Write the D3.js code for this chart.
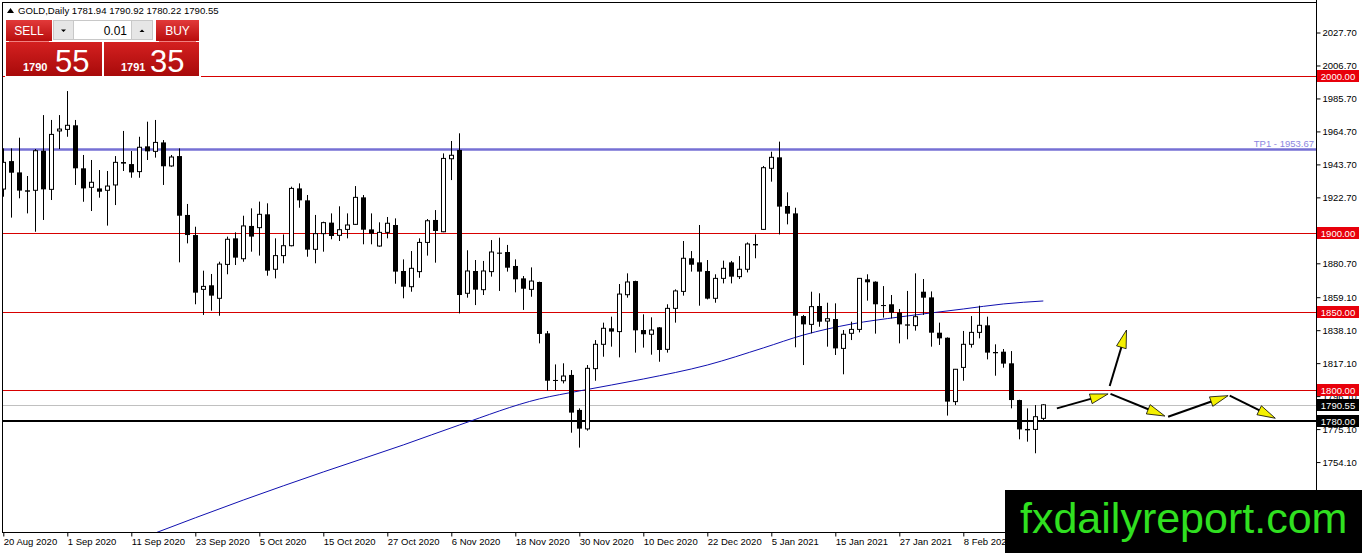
<!DOCTYPE html>
<html lang="en">
<head>
<meta charset="UTF-8">
<title>GOLD,Daily</title>
<script src="https://cdn.jsdelivr.net/npm/d3@7"></script>
<style>
    html, body { margin: 0; padding: 0; background: #fff; overflow: hidden; }
    svg { display: block; font-family: "Liberation Sans", Arial, sans-serif; }
</style>
</head>
<body>
<script>
// daily candles, oldest first (bar 0 = 20 Aug 2020)
const opens = [1928.0,1945.8,1938.6,1927.2,1927.2,1952.4,1927.8,1965.0,1966.0,1968.6,
    1941.2,1929.1,1928.4,1927.2,1930.6,1945.2,1943.9,1939.1,1955.2,1952.0,
    1957.7,1942.7,1949.0,1911.5,1898.7,1864.1,1866.7,1858.4,1880.0,1896.6,
    1883.6,1904.5,1903.4,1911.9,1876.9,1885.6,1891.9,1928.4,1920.8,1889.6,
    1899.6,1906.6,1898.5,1902.3,1905.5,1922.7,1902.3,1891.7,1900.4,1905.1,
    1875.8,1865.8,1875.4,1894.0,1908.3,1900.8,1947.3,1952.9,1861.6,1875.8,
    1863.9,1875.4,1887.5,1887.9,1879.0,1871.1,1864.1,1868.8,1836.1,1806.4,
    1805.9,1809.6,1787.3,1775.2,1813.6,1829.1,1839.3,1837.2,1860.7,1869.4,
    1838.2,1835.5,1839.9,1825.9,1852.0,1862.8,1883.9,1881.3,1875.8,1858.4,
    1871.1,1881.3,1872.2,1876.9,1893.0,1902.3,1941.2,1948.2,1917.2,1912.5,
    1847.1,1841.8,1853.5,1843.9,1845.2,1826.5,1836.1,1838.6,1870.5,1869.0,
    1854.1,1854.6,1849.3,1841.8,1841.0,1862.6,1859.0,1836.5,1833.3,1792.6,
    1814.4,1829.1,1836.7,1841.2,1824.2,1824.4,1817.0,1793.6,1775.2,1774.9,
    1781.94];
const highs = [1953.9,1953.9,1960.7,1936.3,1953.5,1975.1,1972.0,1975.1,1990.4,1972.0,
    1949.7,1946.5,1940.1,1939.5,1949.0,1965.0,1952.2,1961.3,1970.9,1972.0,
    1959.2,1949.7,1953.9,1918.5,1904.0,1876.0,1873.9,1881.7,1897.7,1900.4,
    1911.0,1915.7,1920.0,1918.9,1896.6,1899.1,1929.5,1931.6,1924.2,1911.5,
    1907.2,1912.5,1917.0,1912.5,1929.9,1924.2,1912.5,1906.8,1910.2,1909.3,
    1883.2,1888.5,1896.6,1908.9,1914.6,1950.7,1958.6,1963.5,1889.0,1882.8,
    1882.2,1895.5,1897.0,1892.4,1883.2,1872.6,1878.1,1869.0,1837.6,1816.3,
    1817.0,1812.7,1788.3,1815.9,1831.8,1842.9,1846.7,1867.5,1874.3,1869.6,
    1848.2,1846.3,1840.1,1854.6,1864.1,1894.9,1888.5,1905.1,1882.8,1873.7,
    1882.4,1882.2,1885.3,1894.0,1899.1,1942.7,1951.8,1958.2,1925.9,1916.1,
    1847.8,1862.6,1861.6,1855.6,1855.2,1838.2,1843.5,1871.3,1873.7,1869.2,
    1866.2,1860.5,1851.6,1863.1,1874.3,1870.7,1862.8,1842.9,1833.5,1813.4,
    1837.6,1847.1,1853.7,1846.7,1829.1,1826.1,1824.8,1793.8,1788.3,1790.4,
    1790.92];
const lows = [1923.1,1909.8,1922.1,1912.5,1900.8,1908.3,1921.0,1953.5,1961.3,1930.6,
    1919.9,1914.0,1922.5,1904.7,1917.8,1939.5,1935.2,1935.2,1946.5,1948.0,
    1930.6,1942.2,1881.3,1893.4,1854.6,1847.8,1850.5,1847.3,1873.7,1879.6,
    1881.7,1888.1,1885.6,1872.8,1871.1,1880.7,1891.5,1916.1,1884.9,1880.7,
    1888.1,1896.0,1894.9,1896.6,1905.1,1892.8,1892.8,1891.3,1896.6,1867.7,
    1858.4,1862.6,1871.5,1885.6,1881.1,1900.5,1933.7,1848.8,1858.8,1854.1,
    1860.5,1872.2,1863.1,1875.4,1862.2,1851.0,1859.4,1829.7,1799.6,1800.0,
    1804.2,1772.8,1763.3,1774.1,1805.9,1821.2,1827.6,1820.8,1858.8,1823.8,
    1827.0,1822.5,1818.0,1823.8,1842.9,1860.1,1875.4,1853.7,1857.7,1855.6,
    1867.9,1867.9,1870.7,1874.9,1883.9,1901.9,1932.7,1899.1,1905.5,1827.2,
    1815.9,1836.1,1840.3,1827.6,1822.3,1810.0,1831.8,1836.7,1856.9,1835.9,
    1846.1,1845.6,1829.7,1832.3,1837.8,1847.8,1827.6,1828.7,1783.7,1790.4,
    1805.9,1827.0,1832.9,1819.5,1809.1,1814.2,1788.3,1768.6,1767.1,1759.7,
    1780.22];
const closes = [1945.0,1938.4,1927.0,1926.3,1952.4,1927.8,1962.8,1966.2,1968.6,1941.2,
    1928.4,1932.3,1926.3,1929.9,1945.0,1944.2,1938.6,1954.6,1952.0,1957.7,
    1942.5,1948.4,1911.0,1898.7,1862.0,1866.0,1860.1,1880.2,1896.0,1884.3,
    1904.5,1897.7,1911.9,1876.0,1885.6,1891.9,1928.4,1920.8,1889.4,1899.6,
    1906.6,1898.1,1902.1,1905.1,1922.7,1902.1,1899.6,1900.4,1906.2,1875.4,
    1865.8,1877.5,1894.0,1907.8,1901.3,1947.5,1949.5,1860.5,1875.8,1863.9,
    1875.8,1887.9,1886.8,1877.9,1870.5,1864.5,1869.4,1835.7,1805.9,1805.9,
    1808.9,1785.6,1775.4,1813.8,1829.1,1839.3,1837.2,1861.1,1868.8,1838.0,
    1835.5,1838.2,1825.5,1852.0,1863.1,1883.9,1879.8,1875.4,1858.2,1871.1,
    1877.5,1872.2,1876.9,1893.0,1892.1,1941.6,1948.2,1916.8,1912.3,1847.3,
    1841.8,1853.1,1843.5,1845.4,1826.5,1835.5,1838.6,1871.1,1868.6,1854.6,
    1853.7,1849.3,1841.8,1841.0,1846.7,1858.8,1836.5,1832.9,1792.6,1813.2,
    1829.1,1836.7,1841.2,1823.8,1823.4,1816.8,1793.6,1774.9,1774.3,1783.0,
    1790.55];

// moving average (bar index, price)
const maBars   = [18, 30, 40, 50, 57, 67, 72, 80, 88, 95, 100, 106, 112, 120, 125, 130];
const maValues = [1707.0,1729.9,1747.8,1765.0,1777.7,1794.3,1799.4,1807.0,1815.9,1826.8,1835.0,1842.0,1846.5,1851.6,1854.8,1856.7];

const dateBars   = [0, 8, 16, 24, 32, 40, 48, 56, 64, 72, 80, 88, 96, 104, 112, 120];
const dateLabels = ["20 Aug 2020","1 Sep 2020","11 Sep 2020","23 Sep 2020","5 Oct 2020","15 Oct 2020",
    "27 Oct 2020","6 Nov 2020","18 Nov 2020","30 Nov 2020","10 Dec 2020","22 Dec 2020",
    "5 Jan 2021","15 Jan 2021","27 Jan 2021","8 Feb 2021"];

const priceTicks = [2027.70, 2006.70, 1985.70, 1964.70, 1943.70, 1922.70, 1880.70,
    1859.10, 1838.10, 1817.10, 1796.10, 1775.10, 1754.10];

const redLevels = [2000, 1900, 1850, 1800];
const bid = 1790.55;
const ask = 1791.35;
const blackLevel = 1780;
const tp1 = 1953.67;

// drawn arrows: [bar, price] -> [bar, price]
const arrows = [
    [[131.7, 1788.3], [138.1, 1797.5]],
    [[138.3, 1802.5], [140.4, 1838.2]],
    [[138.4, 1797.5], [145.2, 1783.4]],
    [[145.6, 1783.0], [153.1, 1796.4]],
    [[153.3, 1796.4], [159.0, 1782.0]]
];

const W = 1362, H = 553;
const plot = {left: 2, top: 2, right: 1316, bottom: 532};

const x = d3.scaleLinear().domain([0, 164]).range([3.3, 3.3 + 8 * 164]);
const y = d3.scaleLinear().domain([1800, 2000]).range([390, 76]);

const svg = d3.select("body").append("svg").attr("width", W).attr("height", H);

svg.append("defs").append("clipPath").attr("id", "plotclip")
    .append("rect")
    .attr("x", plot.left).attr("y", plot.top)
    .attr("width", plot.right - plot.left).attr("height", plot.bottom - plot.top);

const g = svg.append("g").attr("clip-path", "url(#plotclip)");

// horizontal levels
g.selectAll("line.red").data(redLevels).enter().append("line")
    .attr("x1", plot.left).attr("x2", plot.right)
    .attr("y1", d => Math.round(y(d)) + 0.5).attr("y2", d => Math.round(y(d)) + 0.5)
    .attr("stroke", "#d70000").attr("stroke-width", 1);

g.append("line")
    .attr("x1", plot.left).attr("x2", plot.right)
    .attr("y1", Math.round(y(bid)) + 0.5).attr("y2", Math.round(y(bid)) + 0.5)
    .attr("stroke", "#c0c0c0");

g.append("line")
    .attr("x1", plot.left).attr("x2", plot.right)
    .attr("y1", Math.round(y(blackLevel))).attr("y2", Math.round(y(blackLevel)))
    .attr("stroke", "#000").attr("stroke-width", 2);

g.append("line")
    .attr("x1", plot.left).attr("x2", plot.right)
    .attr("y1", Math.round(y(tp1)) + 0.5).attr("y2", Math.round(y(tp1)) + 0.5)
    .attr("stroke", "#7670d4").attr("stroke-width", 2.5);

g.append("text")
    .attr("x", plot.right - 2).attr("y", Math.round(y(tp1)) - 2)
    .attr("text-anchor", "end").attr("font-size", 9.5)
    .attr("fill", "#8c86e0")
    .text("TP1 - " + tp1.toFixed(2));

// moving average
const maData = maBars.map((b, i) => ({b: b, v: maValues[i]}));
g.append("path")
    .datum(maData)
    .attr("fill", "none")
    .attr("stroke", "#1010b0")
    .attr("stroke-width", 1)
    .attr("d", d3.line().x(d => x(d.b)).y(d => y(d.v)).curve(d3.curveMonotoneX));

// candles
const candles = opens.map((o, i) => ({i: i, o: o, h: highs[i], l: lows[i], c: closes[i]}));
const cg = g.append("g").selectAll("g").data(candles).enter().append("g");

cg.append("line")
    .attr("x1", d => Math.round(x(d.i)) + 0.5).attr("x2", d => Math.round(x(d.i)) + 0.5)
    .attr("y1", d => y(d.h)).attr("y2", d => y(d.l))
    .attr("stroke", "#000");

cg.append("rect")
    .attr("x", d => d.c >= d.o ? Math.round(x(d.i)) - 1.5 : Math.round(x(d.i)) - 2)
    .attr("width", d => d.c >= d.o ? 4 : 5)
    .attr("y", d => y(Math.max(d.o, d.c)))
    .attr("height", d => Math.max(1, y(Math.min(d.o, d.c)) - y(Math.max(d.o, d.c))))
    .attr("fill", d => d.c >= d.o ? "#fff" : "#000")
    .attr("stroke", d => d.c >= d.o ? "#000" : "none")
    .attr("stroke-width", 1);

// arrows
const ag = g.append("g");
arrows.forEach(a => {
    const x1 = x(a[0][0]), y1 = y(a[0][1]), x2 = x(a[1][0]), y2 = y(a[1][1]);
    const ang = Math.atan2(y2 - y1, x2 - x1);
    const len = 18, hw = 5;
    ag.append("line")
        .attr("x1", x1).attr("y1", y1)
        .attr("x2", x2 - Math.cos(ang) * 8).attr("y2", y2 - Math.sin(ang) * 8)
        .attr("stroke", "#000").attr("stroke-width", 2);
    const bx = x2 - Math.cos(ang) * len, by = y2 - Math.sin(ang) * len;
    const px = -Math.sin(ang) * hw, py = Math.cos(ang) * hw;
    ag.append("path")
        .attr("d", `M${x2},${y2}L${bx + px},${by + py}L${bx - px},${by - py}Z`)
        .attr("fill", "#f4f000").attr("stroke", "#000").attr("stroke-width", 0.8);
});

// frame
svg.append("line").attr("x1", plot.left + 0.5).attr("x2", plot.left + 0.5)
    .attr("y1", plot.top).attr("y2", plot.bottom).attr("stroke", "#000");
svg.append("line").attr("x1", plot.left).attr("x2", plot.right)
    .attr("y1", plot.top + 0.5).attr("y2", plot.top + 0.5).attr("stroke", "#000");

// right price axis
const yAxis = d3.axisRight(y).tickValues(priceTicks).tickSize(4).tickPadding(2)
    .tickFormat(d3.format(".2f"));
const ya = svg.append("g").attr("transform", `translate(${plot.right + 0.5},0)`).call(yAxis);
ya.select(".domain").remove();
ya.append("line").attr("x1", 0).attr("x2", 0).attr("y1", 0).attr("y2", H).attr("stroke", "#000");
ya.selectAll("text").attr("font-size", 9.5).attr("fill", "#000")
    .attr("font-family", "'Liberation Sans', Arial, sans-serif");

// bottom date axis
const xAxis = d3.axisBottom(x).tickValues(dateBars).tickSize(4).tickFormat((d, i) => dateLabels[i]);
const xa = svg.append("g").attr("transform", `translate(0,${plot.bottom + 0.5})`).call(xAxis);
xa.select(".domain").remove();
xa.append("line").attr("x1", plot.left).attr("x2", plot.right).attr("y1", 0).attr("y2", 0).attr("stroke", "#000");
xa.selectAll("text").attr("text-anchor", "start").attr("dx", 0).attr("y", 6)
    .attr("font-size", 9.5).attr("fill", "#000")
    .attr("font-family", "'Liberation Sans', Arial, sans-serif");

// price boxes on the axis
const boxes = redLevels.map(v => ({v: v, fill: "#e8000b"}))
    .concat([{v: bid, fill: "#000"}, {v: blackLevel, fill: "#000"}]);
const bxg = svg.append("g").selectAll("g").data(boxes).enter().append("g")
    .attr("transform", d => `translate(${plot.right + 1},${Math.round(y(d.v))})`);
bxg.append("rect").attr("x", 0).attr("y", -6).attr("width", 42).attr("height", 12)
    .attr("fill", d => d.fill);
bxg.append("text").attr("x", 21).attr("y", 3.5).attr("text-anchor", "middle")
    .attr("font-size", 9.5).attr("fill", "#fff").text(d => d.v.toFixed(2));

// header
const hdr = svg.append("g");
hdr.append("path").attr("d", "M7,13L10.5,8L14,13Z").attr("fill", "#000");
hdr.append("text").attr("x", 18).attr("y", 14).attr("font-size", 9.6).attr("fill", "#000")
    .text("GOLD,Daily  " + [opens[130], highs[130], lows[130], closes[130]].map(v => v.toFixed(2)).join(" "));

// one-click trading panel
const defs = svg.select("defs");
const grad = defs.append("linearGradient").attr("id", "redgrad").attr("x1", 0).attr("x2", 0).attr("y1", 0).attr("y2", 1);
grad.append("stop").attr("offset", "0%").attr("stop-color", "#e23a3a");
grad.append("stop").attr("offset", "100%").attr("stop-color", "#b80d0d");
const grad2 = defs.append("linearGradient").attr("id", "redgrad2").attr("x1", 0).attr("x2", 0).attr("y1", 0).attr("y2", 1);
grad2.append("stop").attr("offset", "0%").attr("stop-color", "#d42020");
grad2.append("stop").attr("offset", "100%").attr("stop-color", "#a80a0a");

const pn = svg.append("g");
pn.append("rect").attr("x", 5).attr("y", 19).attr("width", 196).attr("height", 58).attr("fill", "#fff");
// sell
pn.append("rect").attr("x", 6).attr("y", 20).attr("width", 46).attr("height", 21).attr("fill", "url(#redgrad)");
pn.append("line").attr("x1", 9).attr("x2", 49).attr("y1", 41.5).attr("y2", 41.5).attr("stroke", "#f08080");
pn.append("text").attr("x", 29).attr("y", 35).attr("text-anchor", "middle").attr("font-size", 12)
    .attr("fill", "#fff").text("SELL");
pn.append("rect").attr("x", 6).attr("y", 42).attr("width", 96).attr("height", 34).attr("fill", "url(#redgrad2)");
pn.append("text").attr("x", 23).attr("y", 71).attr("font-size", 11).attr("font-weight", "bold")
    .attr("fill", "#fff").text(Math.floor(bid));
pn.append("text").attr("x", 55).attr("y", 72).attr("font-size", 31)
    .attr("fill", "#fff").text(bid.toFixed(2).split(".")[1]);
// lot box
pn.append("rect").attr("x", 53.5).attr("y", 20.5).attr("width", 20).attr("height", 19).attr("fill", "#e6e6e6").attr("stroke", "#c8c8c8");
pn.append("path").attr("d", "M61,29.5L66,29.5L63.5,32Z").attr("fill", "#000");
pn.append("rect").attr("x", 73.5).attr("y", 20.5).attr("width", 58).attr("height", 19).attr("fill", "#fff").attr("stroke", "#c8c8c8");
pn.append("text").attr("x", 127).attr("y", 35).attr("text-anchor", "end").attr("font-size", 12).attr("fill", "#000").text("0.01");
pn.append("rect").attr("x", 131.5).attr("y", 20.5).attr("width", 21).attr("height", 19).attr("fill", "#e6e6e6").attr("stroke", "#c8c8c8");
pn.append("path").attr("d", "M139.5,32L144.5,32L142,29.5Z").attr("fill", "#000");
// buy
pn.append("rect").attr("x", 156).attr("y", 20).attr("width", 43).attr("height", 21).attr("fill", "url(#redgrad)");
pn.append("line").attr("x1", 159).attr("x2", 196).attr("y1", 41.5).attr("y2", 41.5).attr("stroke", "#f08080");
pn.append("text").attr("x", 177.5).attr("y", 35).attr("text-anchor", "middle").attr("font-size", 12)
    .attr("fill", "#fff").text("BUY");
pn.append("rect").attr("x", 104).attr("y", 42).attr("width", 95).attr("height", 34).attr("fill", "url(#redgrad2)");
pn.append("text").attr("x", 121).attr("y", 71).attr("font-size", 11).attr("font-weight", "bold")
    .attr("fill", "#fff").text(Math.floor(ask));
pn.append("text").attr("x", 150).attr("y", 72).attr("font-size", 31)
    .attr("fill", "#fff").text(ask.toFixed(2).split(".")[1]);

// watermark
const wm = svg.append("g");
wm.append("rect").attr("x", 1005).attr("y", 490).attr("width", W - 1005).attr("height", H - 490).attr("fill", "#000");
wm.append("text").attr("x", 1020).attr("y", 533).attr("font-size", 43)
    .attr("fill", "#30e020").text("fxdailyreport.com");
</script>
</body>
</html>
